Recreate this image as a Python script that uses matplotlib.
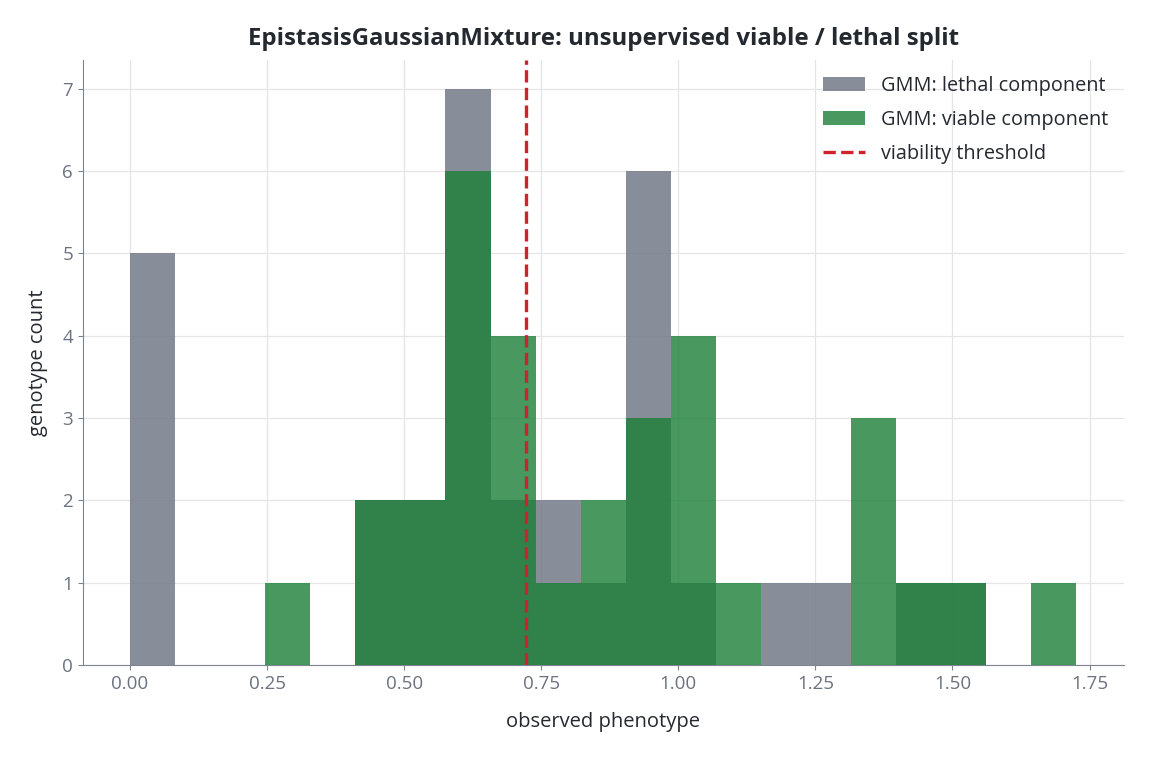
import numpy as np
import matplotlib.pyplot as plt

plt.rcParams["font.family"] = ["Open Sans", "DejaVu Sans"]

# shared bin edges over observed phenotype (21 bins)
bin_lo = 0.0
bin_hi = 1.726
n_bins = 21
# genotype counts per bin
lethal_counts = [5, 0, 0, 0, 0, 2, 2, 7, 2, 2, 1, 6, 1, 0, 1, 1, 0, 1, 1, 0, 0]
viable_counts = [0, 0, 0, 1, 0, 2, 2, 6, 4, 1, 2, 3, 4, 1, 0, 0, 3, 1, 1, 0, 1]
threshold = 0.7226

edges = np.linspace(bin_lo, bin_hi, n_bins + 1)
centers = (edges[:-1] + edges[1:]) / 2

fig, ax = plt.subplots(figsize=(11.49, 7.59), dpi=100)
ax.hist(centers, bins=edges, weights=lethal_counts, color="#6b7280", alpha=0.8,
        label="GMM: lethal component", zorder=2)
ax.hist(centers, bins=edges, weights=viable_counts, color="#1a7f37", alpha=0.8,
        label="GMM: viable component", zorder=3)
ax.axvline(threshold, color="#cf222e", linestyle="--", linewidth=2.4,
           label="viability threshold", zorder=4)

ax.set_title("EpistasisGaussianMixture: unsupervised viable / lethal split",
             fontsize=17.3, fontweight="bold", color="#24292f", pad=11)
ax.set_xlabel("observed phenotype", fontsize=14.5, color="#24292f", labelpad=14)
ax.set_ylabel("genotype count", fontsize=14.5, color="#24292f", labelpad=10)

ax.grid(True, color="#e5e5e8", linewidth=0.9, zorder=0)
ax.set_axisbelow(True)
for s in ["top", "right"]:
    ax.spines[s].set_visible(False)
for s in ["left", "bottom"]:
    ax.spines[s].set_color("#7d8590")
ax.tick_params(colors="#7d8590", labelcolor="#6b7280", labelsize=13.5)

leg = ax.legend(frameon=False, fontsize=14.3, loc="upper right",
                labelspacing=0.72, handlelength=2.1, borderaxespad=0.4)
for t in leg.get_texts():
    t.set_color("#24292f")

fig.subplots_adjust(left=0.072, right=0.978, top=0.921, bottom=0.124)
fig.savefig("out.png", dpi=100)
